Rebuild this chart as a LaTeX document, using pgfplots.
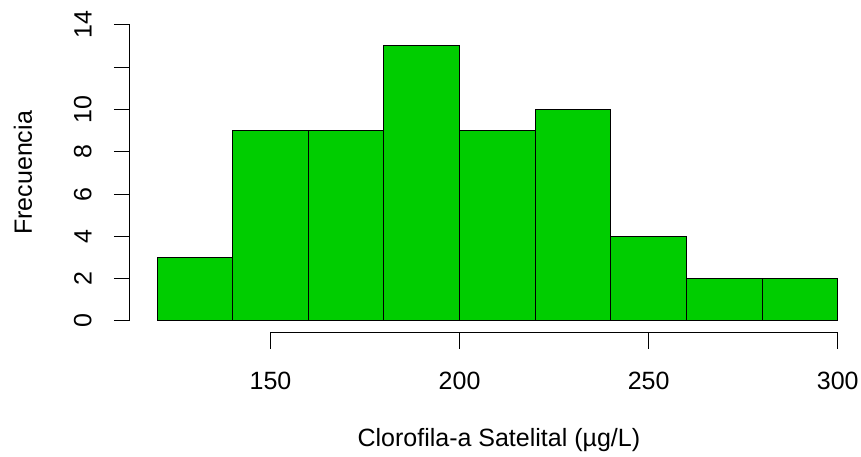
\documentclass[border=0pt]{standalone}
\usepackage{pgfplots}
\pgfplotsset{compat=1.18}
\usepackage{fontspec}
\setmainfont{Liberation Sans}
\definecolor{rgreen}{HTML}{00CD00}
\begin{document}
\fontsize{12.5}{15}\selectfont
\begin{tikzpicture}
\path[use as bounding box] (0,0) rectangle (430.5pt,228pt);
\begin{axis}[
 at={(64.9pt,61.6pt)}, anchor=south west, scale only axis,
 width=367.6pt, height=159.9pt,
 xmin=112.8, xmax=307.2, ymin=-0.56, ymax=14.56,
 axis x line*=bottom, axis y line*=left,
 axis line style={draw=none},
 tick align=outside,
 major tick length=8pt,
 tick style={black, line width=0.5pt},
 xtick={150,200,250,300}, xticklabels={150,200,250,300},
 ytick={0,2,4,6,8,10,12,14}, yticklabels={0,2,4,6,8,10,,14},
 minor tick num=0,
 xticklabel style={anchor=north, inner sep=0pt},
 xticklabel shift=11.2pt,
 yticklabel style={rotate=90, anchor=south, inner sep=0pt},
 yticklabel shift=10.9pt,
 xlabel={Clorofila-a Satelital (µg/L)},
 ylabel={Frecuencia},
 xlabel style={at={(axis description cs:0.502,-0.3346)}, anchor=center},
 ylabel style={at={(axis description cs:-0.1453,0.5)}, anchor=center},
 clip=false,
]
\addplot[ybar interval, fill=rgreen, draw=black, line width=0.5pt] coordinates {
(120,3)(140,9)(160,9)(180,13)(200,9)(220,10)(240,4)(260,2)(280,2)(300,2)};
\draw[black, line width=0.5pt] (axis cs:150,-0.56) -- (axis cs:300,-0.56);
\draw[black, line width=0.5pt] (axis cs:112.8,0) -- (axis cs:112.8,14);
\end{axis}
\end{tikzpicture}
\end{document}
